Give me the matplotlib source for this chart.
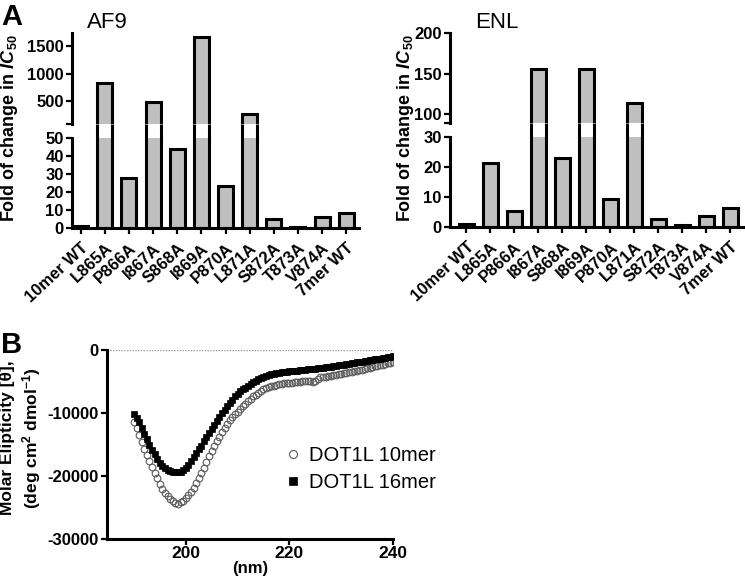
import matplotlib
matplotlib.use('Agg')
import matplotlib.pyplot as plt
from matplotlib.transforms import blended_transform_factory
import numpy as np

plt.rcParams['font.family'] = ['Liberation Sans', 'DejaVu Sans']
plt.rcParams['mathtext.fontset'] = 'custom'
plt.rcParams['mathtext.rm'] = 'Liberation Sans'
plt.rcParams['mathtext.bf'] = 'Liberation Sans:bold'
plt.rcParams['mathtext.it'] = 'Liberation Sans:italic'
try:
    plt.rcParams['mathtext.bfit'] = 'Liberation Sans:bold:italic'
    IC_LABEL = r'Fold of change in $\mathbfit{IC}_{\mathbf{50}}$'
except KeyError:
    IC_LABEL = r'Fold of change in $\mathit{IC}_{50}$'

# ---------------- data ----------------
categories = ['10mer WT', 'L865A', 'P866A', 'I867A', 'S868A', 'I869A',
              'P870A', 'L871A', 'S872A', 'T873A', 'V874A', '7mer WT']
af9_fold = [1.2, 830, 28, 480, 44, 1670, 23.5, 265, 5, 0.7, 6, 8.3]
enl_fold = [1.0, 21.5, 5.3, 156, 23, 156, 9.3, 114, 2.5, 0.5, 3.7, 6.3]

af9_ticks_low = [0, 10, 20, 30, 40, 50]
af9_ticks_high = [500, 1000, 1500]
enl_ticks_low = [0, 10, 20, 30]
enl_ticks_high = [100, 150, 200]

wavelength = np.arange(190, 240.01, 0.5)
dot1l_10mer = [
    -11400, -12400, -13500, -14600, -15700, -16700, -17700, -18600, -19500, -20400,
    -21300, -22100, -22700, -23200, -23600, -23900, -24300, -24400, -24200, -23900,
    -23500, -23000, -22500, -21900, -21200, -20400, -19600, -18700, -17800, -16900,
    -16100, -15300, -14500, -13800, -13100, -12400, -11800, -11200, -10700, -10200,
    -9800, -9400, -9000, -8600, -8200, -7800, -7400, -7100, -6800, -6500,
    -6300, -6100, -5950, -5800, -5700, -5600, -5500, -5400, -5350, -5300,
    -5250, -5200, -5150, -5100, -5050, -5000, -4950, -4900, -4950, -5050,
    -4900, -4600, -4400, -4300, -4250, -4200, -4100, -4050, -3950, -3850,
    -3800, -3700, -3650, -3550, -3500, -3400, -3350, -3250, -3150, -3050,
    -2950, -2850, -2750, -2650, -2550, -2450, -2350, -2250, -2150, -2050,
    -1950]
dot1l_16mer = [
    -10200, -10800, -11500, -12400, -13300, -14200, -15100, -15900, -16600, -17300,
    -17900, -18400, -18800, -19100, -19300, -19350, -19400, -19450, -19350, -19100,
    -18700, -18200, -17600, -17000, -16400, -15800, -15200, -14500, -13800, -13200,
    -12600, -12000, -11300, -10700, -10100, -9500, -8900, -8400, -7900, -7400,
    -6950, -6600, -6300, -6000, -5700, -5400, -5150, -4900, -4650, -4450,
    -4300, -4150, -4000, -3900, -3800, -3700, -3650, -3600, -3550, -3500,
    -3450, -3400, -3350, -3300, -3250, -3200, -3150, -3100, -3100, -3050,
    -3000, -2950, -2900, -2850, -2800, -2750, -2700, -2650, -2600, -2500,
    -2450, -2400, -2300, -2250, -2150, -2100, -2000, -1950, -1900, -1800,
    -1750, -1700, -1600, -1550, -1450, -1400, -1300, -1250, -1200, -1100,
    -1050]
cd_yticks = [0, -10000, -20000, -30000]
cd_xticks = [200, 220, 240]

# ---------------- styling ----------------
W, H = 745, 581
fig = plt.figure(figsize=(W / 100, H / 100), dpi=100)
BAR_FILL = '#bfbfbf'
LW = 2.2
BAR_W = 0.62
TICK_FS = 12


def px_rect(x0, x1, ytop, ybot):
    return [x0 / W, 1 - ybot / H, (x1 - x0) / W, (ybot - ytop) / H]


def style_axis(ax):
    for s in ['top', 'right']:
        ax.spines[s].set_visible(False)
    for s in ['left', 'bottom']:
        ax.spines[s].set_linewidth(LW)
    ax.tick_params(direction='out', length=4, width=1.6, pad=2)


def broken_panel(rect_low, rect_high, values, ylim_low, ylim_high,
                 ticks_low, ticks_high, xlim):
    ax_l = fig.add_axes(rect_low)
    ax_h = fig.add_axes(rect_high)
    x = np.arange(len(categories))
    for ax in (ax_l, ax_h):
        ax.bar(x, values, width=BAR_W, color=BAR_FILL, edgecolor='black',
               linewidth=LW)
        ax.set_xlim(xlim)
        style_axis(ax)
    ax_l.set_ylim(ylim_low)
    ax_h.set_ylim(ylim_high)
    ax_h.spines['bottom'].set_visible(False)
    ax_h.set_xticks([])
    ax_l.set_yticks(ticks_low, [str(t) for t in ticks_low],
                    fontweight='bold', fontsize=TICK_FS)
    ax_h.set_yticks([ylim_high[0]] + ticks_high,
                    [''] + [str(t) for t in ticks_high],
                    fontweight='bold', fontsize=TICK_FS)
    ax_l.set_xticks(x, categories, rotation=43, ha='right', va='top',
                    rotation_mode='anchor', fontweight='bold', fontsize=12)
    ax_l.tick_params(axis='x', pad=5)
    # bar outlines continue through the gap of the broken axis
    gap = (rect_high[1] - (rect_low[1] + rect_low[3])) / rect_low[3]
    trans = blended_transform_factory(ax_l.transData, ax_l.transAxes)
    for xi, v in zip(x, values):
        if v > ylim_low[1]:
            ax_l.vlines([xi - BAR_W / 2, xi + BAR_W / 2], 1, 1 + gap,
                        transform=trans, colors='black', lw=LW, clip_on=False)
    return ax_l, ax_h


# Panel A - AF9
broken_panel(px_rect(72, 359, 138, 228), px_rect(72, 359, 33, 124),
             af9_fold, (0, 50), (80, 1740), af9_ticks_low, af9_ticks_high,
             (-0.36, 11.53))
fig.text(10 / W, 1 - 128 / H, IC_LABEL, rotation=90, ha='center', va='center',
         fontsize=13, fontweight='bold')
fig.text(87 / W, 1 - 23 / H, 'AF9', ha='left', va='center', fontsize=16)

# Panel A - ENL
broken_panel(px_rect(450, 744, 137, 227), px_rect(450, 744, 33, 123),
             enl_fold, (0, 30), (89, 200), enl_ticks_low, enl_ticks_high,
             (-0.68, 11.57))
fig.text(405 / W, 1 - 128 / H, IC_LABEL, rotation=90, ha='center', va='center',
         fontsize=13, fontweight='bold')
fig.text(475 / W, 1 - 23 / H, 'ENL', ha='left', va='center', fontsize=16)

fig.text(0.002, 1 - 3 / H, 'A', ha='left', va='top', fontsize=21,
         fontweight='bold')
fig.text(0.002, 1 - 331 / H, 'B', ha='left', va='top', fontsize=21,
         fontweight='bold')

# Panel B - CD spectra
axb = fig.add_axes(px_rect(107, 393, 349.7, 539))
style_axis(axb)
axb.axhline(0, color='#999999', lw=1, ls=(0, (1, 1)), zorder=1)
axb.plot(wavelength, dot1l_10mer, ls='none', marker='o', ms=4.8,
         mfc='none', mec='#5a5a5a', mew=0.8, label='DOT1L 10mer', zorder=3)
axb.plot(wavelength, dot1l_16mer, ls='none', marker='s', ms=4.4,
         mfc='black', mec='black', mew=0.5, label='DOT1L 16mer', zorder=4)
axb.set_xlim(184.8, 240)
axb.set_ylim(-30000, 0)
axb.set_yticks(cd_yticks, [str(t) for t in cd_yticks], fontweight='bold',
               fontsize=12)
axb.set_xticks(cd_xticks, [str(t) for t in cd_xticks], fontweight='bold',
               fontsize=12.5)
axb.tick_params(axis='x', pad=1)
axb.set_xlabel('(nm)', fontweight='bold', fontsize=12, labelpad=0)
fig.text(8 / W, 1 - 438 / H, r'Molar Elipticity [θ],', rotation=90,
         ha='center', va='center', fontsize=12.5, fontweight='bold')
fig.text(32 / W, 1 - 438 / H,
         r'(deg cm$^{\mathbf{2}}$ dmol$^{\mathbf{-1}}$)', rotation=90,
         ha='center', va='center', fontsize=12.5, fontweight='bold')
axb.legend(loc='upper left', bbox_to_anchor=(0.622, 0.49), frameon=False,
           fontsize=14.5, handlelength=0.8, handletextpad=0.4,
           labelspacing=0.4, borderpad=0, borderaxespad=0, markerscale=1.2)

fig.savefig('out.png', dpi=100)
